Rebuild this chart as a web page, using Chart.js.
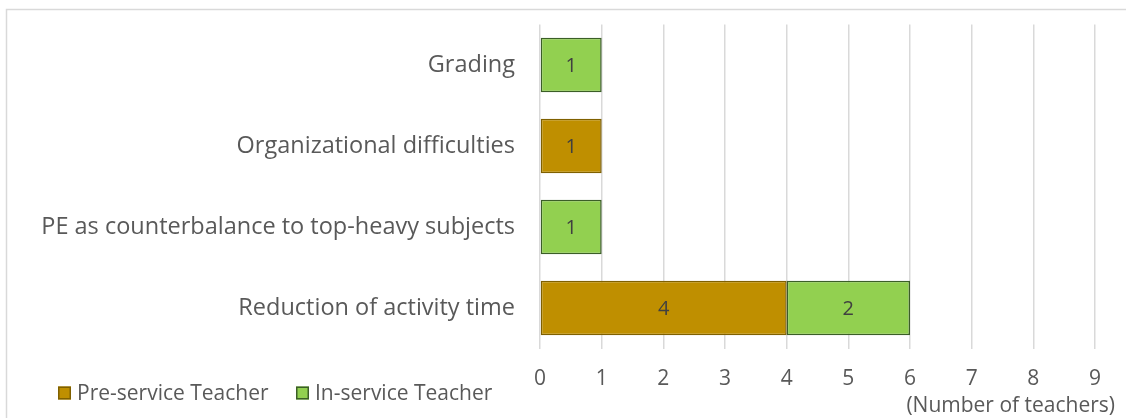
<!DOCTYPE html>
<html><head><meta charset="utf-8">
<script src="https://cdn.jsdelivr.net/npm/chart.js@4.4.1/dist/chart.umd.min.js"></script>
<style>html,body{margin:0;padding:0;background:#fff}#wrap{width:1126px;height:418px;position:relative}</style>
</head><body><div id="wrap"><canvas id="c" width="1126" height="418"></canvas></div>
<script>
const categories = ["Grading", "Organizational difficulties", "PE as counterbalance to top-heavy subjects", "Reduction of activity time"];
const preService = [0, 1, 0, 4];
const inService = [1, 0, 1, 2];
const seriesNames = ["Pre-service Teacher", "In-service Teacher"];
const axisTitle = "(Number of teachers)";
const xMin = 0, xMax = 9;

const FONT = "'Open Sans', sans-serif";
const TXT = "#595959";

const extras = {
  id: 'extras',
  beforeDraw(chart) {
    const ctx = chart.ctx;
    ctx.save();
    ctx.strokeStyle = '#d9d9d9';
    ctx.lineWidth = 1.5;
    ctx.strokeRect(6.5, 9.5, 1300, 600);
    ctx.restore();
  },
  afterDatasetsDraw(chart) {
    const ctx = chart.ctx;
    ctx.save();
    ctx.font = "20px " + FONT;
    ctx.fillStyle = "#404040";
    ctx.textAlign = 'center';
    ctx.textBaseline = 'middle';
    chart.data.datasets.forEach((ds, di) => {
      const meta = chart.getDatasetMeta(di);
      meta.data.forEach((bar, i) => {
        const v = ds.data[i];
        if (!v) return;
        const x = (bar.x + bar.base) / 2;
        ctx.fillText(String(v), x, bar.y + 1);
      });
    });
    ctx.fillStyle = TXT;
    ctx.textAlign = 'right';
    ctx.font = "21px " + FONT;
    ctx.fillText(axisTitle, 1115, 406);
    const items = [{x: 58, tx: 77}, {x: 296, tx: 315}];
    chart.data.datasets.forEach((ds, di) => {
      const it = items[di];
      ctx.fillStyle = ds.backgroundColor;
      ctx.strokeStyle = ds.borderColor;
      ctx.lineWidth = 1.5;
      ctx.fillRect(it.x, 386.5, 13, 13);
      ctx.strokeRect(it.x + 0.75, 387.25, 11.5, 11.5);
      ctx.fillStyle = TXT;
      ctx.textAlign = 'left';
      ctx.fillText(ds.label, it.tx, 394);
    });
    ctx.restore();
  }
};

new Chart(document.getElementById('c'), {
  type: 'bar',
  data: {
    labels: categories,
    datasets: [
      { label: seriesNames[0], data: preService, backgroundColor: '#BF8F00', borderColor: '#7F6000', borderWidth: 1.5, borderSkipped: false, barPercentage: 0.67, categoryPercentage: 1.0 },
      { label: seriesNames[1], data: inService, backgroundColor: '#92D050', borderColor: '#3B5E27', borderWidth: 1.5, borderSkipped: false, barPercentage: 0.67, categoryPercentage: 1.0 }
    ]
  },
  options: {
    indexAxis: 'y',
    responsive: false,
    animation: false,
    layout: { padding: { top: 24.5, right: 31, bottom: 0, left: 0 } },
    plugins: { legend: { display: false }, tooltip: { enabled: false } },
    scales: {
      x: {
        stacked: true, min: xMin, max: xMax,
        ticks: { stepSize: 1, color: TXT, font: { family: FONT, size: 21 }, padding: 18 },
        grid: { color: '#d9d9d9', lineWidth: 1.5, drawTicks: false },
        border: { display: false },
        afterFit(s) { s.height = 418 - 348.5; s.paddingLeft = 0; s.paddingRight = 0; }
      },
      y: {
        stacked: true,
        ticks: { color: TXT, font: { family: FONT, size: 23.5 }, padding: 25 },
        grid: { display: false, drawTicks: false },
        border: { display: false },
        afterFit(s) { s.width = 540; s.paddingTop = 0; s.paddingBottom = 0; }
      }
    }
  },
  plugins: [extras]
});
</script></body></html>
